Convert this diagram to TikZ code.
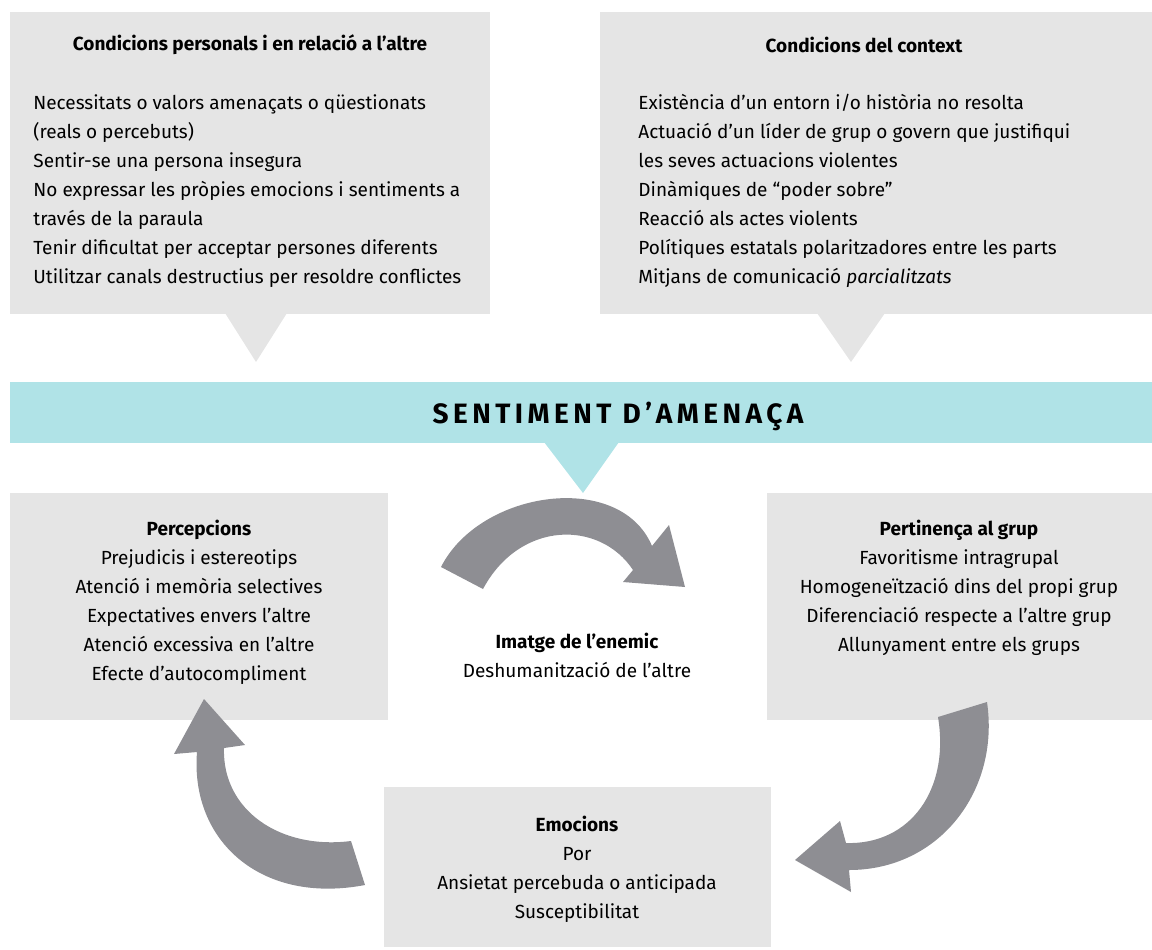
\documentclass[tikz,border=0pt]{standalone}
\usepackage{fontspec}
\setmainfont{Fira Sans}
\usetikzlibrary{positioning}
\definecolor{panelgray}{HTML}{E5E5E5}
\definecolor{bandcyan}{HTML}{B0E3E7}
\definecolor{arrowgray}{HTML}{8E8E93}
\tikzset{
	panel/.style={fill=panelgray,inner sep=0,outer sep=0,anchor=north west},
	band/.style={fill=bandcyan,inner sep=0,outer sep=0,anchor=north west},
	heading/.style={font=\fontsize{9.5}{14.5}\selectfont\bfseries,inner sep=0,align=center},
	listing/.style={font=\fontsize{9.5}{14.5}\selectfont,inner sep=0,align=left,anchor=north west},
	centred/.style={font=\fontsize{9.5}{14.5}\selectfont,inner sep=0,align=center,anchor=north},
	bigarrow/.style={fill=arrowgray}
}

\begin{document}
\begin{tikzpicture}[x=0.5pt,y=-0.5pt]
	\useasboundingbox (0,0) rectangle (1152,949);
	
	% boxes
	\node[panel,minimum width=240pt,minimum height=151pt] (personal) at (10,12) {};
	\node[panel,minimum width=276pt,minimum height=151pt] (context) at (600,12) {};
	\node[band,minimum width=571pt,minimum height=30.5pt] (threat) at (10,382) {};
	\node[panel,minimum width=189pt,minimum height=113.5pt] (percep) at (10,493) {};
	\node[panel,minimum width=192.5pt,minimum height=113.5pt] (group) at (767,493) {};
	\node[panel,minimum width=193.5pt,minimum height=80pt] (emotion) at (384,787) {};
	
	% pointers
	\fill[panelgray] (225,313) -- (287,313) -- (256,362) -- cycle;
	\fill[panelgray] (817,313) -- (885,313) -- (851,362) -- cycle;
	\fill[bandcyan] (544,442) -- (619,442) -- (583,493) -- cycle;
	
	% texts
	\node[heading] (personal title) at (250,45) {Condicions personals i en relació a l’altre};
	\node[listing] (personal list) at (33,94) {Necessitats o valors amenaçats o qüestionats\\
		(reals o percebuts)\\
		Sentir-se una persona insegura\\
		No expressar les pròpies emocions i sentiments a\\
		través de la paraula\\
		Tenir dificultat per acceptar persones diferents\\
		Utilitzar canals destructius per resoldre conflictes};
	\node[heading] (context title) at (864,45) {Condicions del context};
	\node[listing] (context list) at (638,94) {Existència d’un entorn i/o història no resolta\\
		Actuació d’un líder de grup o govern que justifiqui\\
		les seves actuacions violentes\\
		Dinàmiques de “poder sobre”\\
		Reacció als actes violents\\
		Polítiques estatals polaritzadores entre les parts\\
		Mitjans de comunicació \emph{parcialitzats}};
	\node[inner sep=0,font=\fontsize{14}{16}\selectfont\bfseries\addfontfeature{LetterSpace=16}] (threat title) at (618,416) {SENTIMENT D’AMENAÇA};
	
	\node[centred] (percep list) at (199,520) {\textbf{Percepcions}\\
		Prejudicis i estereotips\\
		Atenció i memòria selectives\\
		Expectatives envers l’altre\\
		Atenció excessiva en l’altre\\
		Efecte d’autocompliment};
	\node[centred] (group list) at (959,520) {\textbf{Pertinença al grup}\\
		Favoritisme intragrupal\\
		Homogeneïtzació dins del propi grup\\
		Diferenciació respecte a l’altre grup\\
		Allunyament entre els grups};
	\node[centred] (enemy list) at (577,633) {\textbf{Imatge de l’enemic}\\
		Deshumanització de l’altre};
	\node[centred] (emotion list) at (577,816) {\textbf{Emocions}\\
		Por\\
		Ansietat percebuda o anticipada\\
		Susceptibilitat};
	
	% cycle arrows
	\fill[bigarrow] (441,567) .. controls (480,490) and (620,470) .. (652,546)
		-- (669,525) -- (685,587) -- (623,582) -- (633,570)
		.. controls (600,520) and (520,520) .. (483,589) -- cycle;
	\fill[bigarrow] (987,702) .. controls (1000,790) and (940,870) .. (849,870)
		-- (851,892) -- (795,860) -- (840,821) -- (846,843)
		.. controls (910,845) and (950,790) .. (938,717) -- cycle;
	\fill[bigarrow] (204,699) -- (245,745) -- (224,748)
		.. controls (222,810) and (280,850) .. (351,841)
		-- (365,885) .. controls (260,905) and (190,840) .. (197,752)
		-- (174,754) -- cycle;
	
\end{tikzpicture}
\end{document}
